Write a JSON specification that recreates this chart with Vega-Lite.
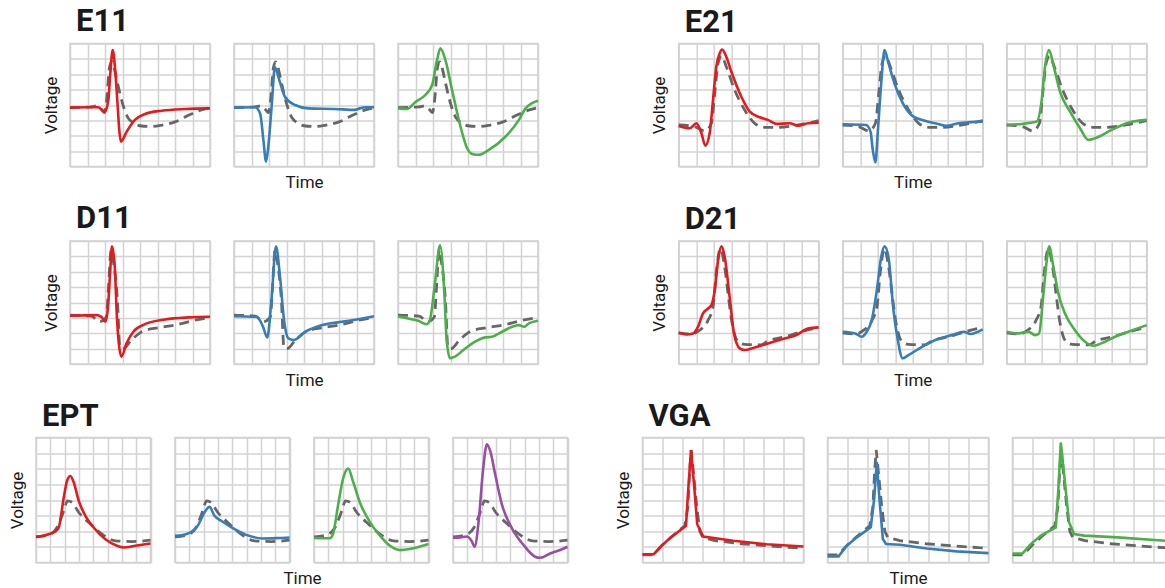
{
"$schema":"https://vega.github.io/schema/vega-lite/v6.json",
"background":"white",
"padding":{"left":7,"top":5.5,"right":0,"bottom":0},
"data":{"name":"w"},
"datasets":{"w":[
{"g":"E11","p":0,"t":0,"v":3.83},{"g":"E11","p":0,"t":1.2,"v":3.88},{"g":"E11","p":0,"t":1.55,"v":3.95},{"g":"E11","p":0,"t":1.8,"v":3.7},{"g":"E11","p":0,"t":1.97,"v":3.5},{"g":"E11","p":0,"t":2.1,"v":4.4},{"g":"E11","p":0,"t":2.25,"v":6.4},{"g":"E11","p":0,"t":2.38,"v":6.81},{"g":"E11","p":0,"t":2.5,"v":6.5},{"g":"E11","p":0,"t":2.7,"v":5.5},{"g":"E11","p":0,"t":3.0,"v":4.1},{"g":"E11","p":0,"t":3.3,"v":3.2},{"g":"E11","p":0,"t":3.6,"v":2.85},{"g":"E11","p":0,"t":4.0,"v":2.65},{"g":"E11","p":0,"t":4.6,"v":2.6},{"g":"E11","p":0,"t":5.2,"v":2.68},{"g":"E11","p":0,"t":6.0,"v":2.9},{"g":"E11","p":0,"t":6.9,"v":3.4},{"g":"E11","p":0,"t":7.5,"v":3.68},{"g":"E11","p":0,"t":8,"v":3.83},
{"g":"E11","p":1,"t":0,"v":3.83},{"g":"E11","p":1,"t":1.05,"v":3.85},{"g":"E11","p":1,"t":1.6,"v":3.85},{"g":"E11","p":1,"t":2.0,"v":3.57},{"g":"E11","p":1,"t":2.19,"v":4.32},{"g":"E11","p":1,"t":2.3,"v":6.0},{"g":"E11","p":1,"t":2.44,"v":7.57},{"g":"E11","p":1,"t":2.58,"v":6.3},{"g":"E11","p":1,"t":2.72,"v":4.0},{"g":"E11","p":1,"t":2.82,"v":2.3},{"g":"E11","p":1,"t":2.91,"v":1.62},{"g":"E11","p":1,"t":3.24,"v":2.27},{"g":"E11","p":1,"t":3.71,"v":3.03},{"g":"E11","p":1,"t":4.29,"v":3.42},{"g":"E11","p":1,"t":5.24,"v":3.63},{"g":"E11","p":1,"t":6.57,"v":3.74},{"g":"E11","p":1,"t":8,"v":3.78},
{"g":"E11","p":2,"t":0,"v":3.83},{"g":"E11","p":2,"t":1.2,"v":3.85},{"g":"E11","p":2,"t":1.49,"v":3.46},{"g":"E11","p":2,"t":1.68,"v":1.73},{"g":"E11","p":2,"t":1.83,"v":0.32},{"g":"E11","p":2,"t":1.96,"v":1.3},{"g":"E11","p":2,"t":2.15,"v":3.89},{"g":"E11","p":2,"t":2.34,"v":6.45},{"g":"E11","p":2,"t":2.59,"v":5.62},{"g":"E11","p":2,"t":2.91,"v":4.54},{"g":"E11","p":2,"t":3.49,"v":4.0},{"g":"E11","p":2,"t":4.25,"v":3.78},{"g":"E11","p":2,"t":5.77,"v":3.74},{"g":"E11","p":2,"t":6.91,"v":3.68},{"g":"E11","p":2,"t":7.2,"v":3.78},{"g":"E11","p":2,"t":7.49,"v":3.85},{"g":"E11","p":2,"t":8,"v":3.85},
{"g":"E11","p":3,"t":0,"v":3.78},{"g":"E11","p":3,"t":0.52,"v":3.74},{"g":"E11","p":3,"t":1.0,"v":4.2},{"g":"E11","p":3,"t":1.56,"v":4.65},{"g":"E11","p":3,"t":1.95,"v":5.3},{"g":"E11","p":3,"t":2.23,"v":6.92},{"g":"E11","p":3,"t":2.42,"v":7.68},{"g":"E11","p":3,"t":2.71,"v":6.92},{"g":"E11","p":3,"t":3.09,"v":4.97},{"g":"E11","p":3,"t":3.57,"v":2.6},{"g":"E11","p":3,"t":3.95,"v":1.19},{"g":"E11","p":3,"t":4.24,"v":0.82},{"g":"E11","p":3,"t":4.62,"v":0.76},{"g":"E11","p":3,"t":5.19,"v":1.08},{"g":"E11","p":3,"t":6.15,"v":1.95},{"g":"E11","p":3,"t":6.91,"v":3.03},{"g":"E11","p":3,"t":7.29,"v":3.78},{"g":"E11","p":3,"t":8,"v":4.28},
{"g":"E21","p":0,"t":0,"v":2.7},{"g":"E21","p":0,"t":0.91,"v":2.6},{"g":"E21","p":0,"t":1.49,"v":2.31},{"g":"E21","p":0,"t":1.87,"v":2.81},{"g":"E21","p":0,"t":2.06,"v":4.76},{"g":"E21","p":0,"t":2.25,"v":6.7},{"g":"E21","p":0,"t":2.45,"v":7.2},{"g":"E21","p":0,"t":2.72,"v":6.49},{"g":"E21","p":0,"t":3.2,"v":4.97},{"g":"E21","p":0,"t":3.77,"v":3.68},{"g":"E21","p":0,"t":4.34,"v":2.81},{"g":"E21","p":0,"t":4.91,"v":2.55},{"g":"E21","p":0,"t":5.68,"v":2.55},{"g":"E21","p":0,"t":6.82,"v":2.7},{"g":"E21","p":0,"t":8,"v":2.98},
{"g":"E21","p":1,"t":0,"v":2.64},{"g":"E21","p":1,"t":0.63,"v":2.49},{"g":"E21","p":1,"t":1.01,"v":2.81},{"g":"E21","p":1,"t":1.3,"v":2.16},{"g":"E21","p":1,"t":1.52,"v":1.36},{"g":"E21","p":1,"t":1.77,"v":2.16},{"g":"E21","p":1,"t":1.96,"v":4.32},{"g":"E21","p":1,"t":2.15,"v":6.49},{"g":"E21","p":1,"t":2.34,"v":7.35},{"g":"E21","p":1,"t":2.48,"v":7.61},{"g":"E21","p":1,"t":2.72,"v":7.14},{"g":"E21","p":1,"t":3.01,"v":6.16},{"g":"E21","p":1,"t":3.58,"v":4.54},{"g":"E21","p":1,"t":4.06,"v":3.57},{"g":"E21","p":1,"t":4.63,"v":3.2},{"g":"E21","p":1,"t":5.1,"v":3.03},{"g":"E21","p":1,"t":5.58,"v":2.77},{"g":"E21","p":1,"t":6.34,"v":2.81},{"g":"E21","p":1,"t":6.82,"v":2.66},{"g":"E21","p":1,"t":7.39,"v":2.81},{"g":"E21","p":1,"t":8,"v":2.85},
{"g":"E21","p":2,"t":0,"v":2.75},{"g":"E21","p":2,"t":1.34,"v":2.7},{"g":"E21","p":2,"t":1.59,"v":2.27},{"g":"E21","p":2,"t":1.72,"v":1.08},{"g":"E21","p":2,"t":1.87,"v":0.26},{"g":"E21","p":2,"t":2.0,"v":2.16},{"g":"E21","p":2,"t":2.2,"v":5.4},{"g":"E21","p":2,"t":2.39,"v":7.57},{"g":"E21","p":2,"t":2.62,"v":6.7},{"g":"E21","p":2,"t":2.96,"v":5.4},{"g":"E21","p":2,"t":3.44,"v":4.1},{"g":"E21","p":2,"t":3.92,"v":3.35},{"g":"E21","p":2,"t":4.68,"v":2.98},{"g":"E21","p":2,"t":5.45,"v":2.77},{"g":"E21","p":2,"t":5.93,"v":2.64},{"g":"E21","p":2,"t":6.6,"v":2.81},{"g":"E21","p":2,"t":8,"v":2.92},
{"g":"E21","p":3,"t":0,"v":2.7},{"g":"E21","p":3,"t":0.67,"v":2.75},{"g":"E21","p":3,"t":1.71,"v":2.92},{"g":"E21","p":3,"t":2.0,"v":4.32},{"g":"E21","p":3,"t":2.19,"v":6.49},{"g":"E21","p":3,"t":2.42,"v":7.57},{"g":"E21","p":3,"t":2.67,"v":6.59},{"g":"E21","p":3,"t":3.05,"v":4.86},{"g":"E21","p":3,"t":3.62,"v":3.57},{"g":"E21","p":3,"t":4.19,"v":2.49},{"g":"E21","p":3,"t":4.67,"v":1.73},{"g":"E21","p":3,"t":5.05,"v":1.84},{"g":"E21","p":3,"t":6.0,"v":2.38},{"g":"E21","p":3,"t":6.95,"v":2.85},{"g":"E21","p":3,"t":8,"v":3.03},
{"g":"D11","p":0,"t":0,"v":3.18},{"g":"D11","p":0,"t":1.21,"v":3.11},{"g":"D11","p":0,"t":1.69,"v":2.75},{"g":"D11","p":0,"t":2.08,"v":3.07},{"g":"D11","p":0,"t":2.2,"v":5.0},{"g":"D11","p":0,"t":2.35,"v":7.4},{"g":"D11","p":0,"t":2.5,"v":6.5},{"g":"D11","p":0,"t":2.71,"v":4.15},{"g":"D11","p":0,"t":2.85,"v":1.12},{"g":"D11","p":0,"t":3.0,"v":0.98},{"g":"D11","p":0,"t":3.52,"v":1.56},{"g":"D11","p":0,"t":4.1,"v":2.1},{"g":"D11","p":0,"t":5.06,"v":2.36},{"g":"D11","p":0,"t":6.02,"v":2.53},{"g":"D11","p":0,"t":6.98,"v":2.81},{"g":"D11","p":0,"t":8,"v":3.03},
{"g":"D11","p":1,"t":0,"v":3.14},{"g":"D11","p":1,"t":1.5,"v":3.18},{"g":"D11","p":1,"t":1.79,"v":3.07},{"g":"D11","p":1,"t":2.02,"v":2.75},{"g":"D11","p":1,"t":2.17,"v":3.72},{"g":"D11","p":1,"t":2.29,"v":5.88},{"g":"D11","p":1,"t":2.4,"v":7.65},{"g":"D11","p":1,"t":2.56,"v":6.31},{"g":"D11","p":1,"t":2.67,"v":3.29},{"g":"D11","p":1,"t":2.79,"v":1.34},{"g":"D11","p":1,"t":2.94,"v":0.48},{"g":"D11","p":1,"t":3.23,"v":1.34},{"g":"D11","p":1,"t":3.62,"v":2.1},{"g":"D11","p":1,"t":4.29,"v":2.59},{"g":"D11","p":1,"t":5.44,"v":2.9},{"g":"D11","p":1,"t":6.79,"v":3.03},{"g":"D11","p":1,"t":8,"v":3.07},
{"g":"D11","p":2,"t":0,"v":3.11},{"g":"D11","p":2,"t":1.29,"v":3.07},{"g":"D11","p":2,"t":1.66,"v":2.42},{"g":"D11","p":2,"t":1.9,"v":1.73},{"g":"D11","p":2,"t":2.14,"v":4.15},{"g":"D11","p":2,"t":2.4,"v":7.65},{"g":"D11","p":2,"t":2.63,"v":5.66},{"g":"D11","p":2,"t":2.86,"v":2.85},{"g":"D11","p":2,"t":3.11,"v":1.66},{"g":"D11","p":2,"t":3.4,"v":1.56},{"g":"D11","p":2,"t":4.08,"v":2.1},{"g":"D11","p":2,"t":5.04,"v":2.53},{"g":"D11","p":2,"t":6.58,"v":2.81},{"g":"D11","p":2,"t":8,"v":3.11},
{"g":"D11","p":3,"t":0,"v":3.11},{"g":"D11","p":3,"t":0.58,"v":2.96},{"g":"D11","p":3,"t":1.15,"v":2.81},{"g":"D11","p":3,"t":1.63,"v":2.59},{"g":"D11","p":3,"t":1.82,"v":2.85},{"g":"D11","p":3,"t":2.11,"v":5.23},{"g":"D11","p":3,"t":2.4,"v":7.72},{"g":"D11","p":3,"t":2.65,"v":4.58},{"g":"D11","p":3,"t":2.78,"v":1.56},{"g":"D11","p":3,"t":2.98,"v":0.37},{"g":"D11","p":3,"t":3.26,"v":0.48},{"g":"D11","p":3,"t":3.74,"v":0.91},{"g":"D11","p":3,"t":4.41,"v":1.45},{"g":"D11","p":3,"t":4.99,"v":1.73},{"g":"D11","p":3,"t":5.37,"v":1.77},{"g":"D11","p":3,"t":5.95,"v":2.1},{"g":"D11","p":3,"t":6.52,"v":2.42},{"g":"D11","p":3,"t":6.91,"v":2.53},{"g":"D11","p":3,"t":7.19,"v":2.42},{"g":"D11","p":3,"t":7.48,"v":2.64},{"g":"D11","p":3,"t":8,"v":2.81},
{"g":"D21","p":0,"t":0,"v":2.03},{"g":"D21","p":0,"t":0.72,"v":1.95},{"g":"D21","p":0,"t":1.2,"v":2.2},{"g":"D21","p":0,"t":1.68,"v":2.85},{"g":"D21","p":0,"t":1.96,"v":3.72},{"g":"D21","p":0,"t":2.15,"v":6.0},{"g":"D21","p":0,"t":2.38,"v":7.5},{"g":"D21","p":0,"t":2.6,"v":6.5},{"g":"D21","p":0,"t":2.82,"v":4.58},{"g":"D21","p":0,"t":3.0,"v":3.0},{"g":"D21","p":0,"t":3.2,"v":1.9},{"g":"D21","p":0,"t":3.4,"v":1.45},{"g":"D21","p":0,"t":3.75,"v":1.28},{"g":"D21","p":0,"t":4.7,"v":1.25},{"g":"D21","p":0,"t":5.1,"v":1.5},{"g":"D21","p":0,"t":6.06,"v":1.77},{"g":"D21","p":0,"t":7.01,"v":2.1},{"g":"D21","p":0,"t":8,"v":2.38},
{"g":"D21","p":1,"t":0,"v":2.03},{"g":"D21","p":1,"t":0.44,"v":1.92},{"g":"D21","p":1,"t":0.82,"v":1.99},{"g":"D21","p":1,"t":1.1,"v":2.42},{"g":"D21","p":1,"t":1.39,"v":3.29},{"g":"D21","p":1,"t":1.68,"v":3.61},{"g":"D21","p":1,"t":1.87,"v":3.83},{"g":"D21","p":1,"t":2.06,"v":4.8},{"g":"D21","p":1,"t":2.25,"v":6.75},{"g":"D21","p":1,"t":2.44,"v":7.65},{"g":"D21","p":1,"t":2.63,"v":6.96},{"g":"D21","p":1,"t":2.91,"v":4.37},{"g":"D21","p":1,"t":3.16,"v":1.99},{"g":"D21","p":1,"t":3.49,"v":1.02},{"g":"D21","p":1,"t":3.77,"v":0.91},{"g":"D21","p":1,"t":4.34,"v":1.08},{"g":"D21","p":1,"t":5.1,"v":1.34},{"g":"D21","p":1,"t":6.06,"v":1.66},{"g":"D21","p":1,"t":6.72,"v":1.88},{"g":"D21","p":1,"t":7.39,"v":2.31},{"g":"D21","p":1,"t":8,"v":2.38},
{"g":"D21","p":2,"t":0,"v":2.1},{"g":"D21","p":2,"t":0.71,"v":1.99},{"g":"D21","p":2,"t":1.09,"v":1.77},{"g":"D21","p":2,"t":1.37,"v":2.1},{"g":"D21","p":2,"t":1.66,"v":2.85},{"g":"D21","p":2,"t":1.95,"v":4.8},{"g":"D21","p":2,"t":2.2,"v":6.96},{"g":"D21","p":2,"t":2.39,"v":7.65},{"g":"D21","p":2,"t":2.62,"v":6.92},{"g":"D21","p":2,"t":2.9,"v":3.5},{"g":"D21","p":2,"t":3.15,"v":1.56},{"g":"D21","p":2,"t":3.42,"v":0.37},{"g":"D21","p":2,"t":3.76,"v":0.58},{"g":"D21","p":2,"t":4.53,"v":1.12},{"g":"D21","p":2,"t":5.29,"v":1.56},{"g":"D21","p":2,"t":6.25,"v":1.88},{"g":"D21","p":2,"t":6.92,"v":2.1},{"g":"D21","p":2,"t":7.3,"v":1.95},{"g":"D21","p":2,"t":8,"v":2.25},
{"g":"D21","p":3,"t":0,"v":2.1},{"g":"D21","p":3,"t":0.67,"v":1.99},{"g":"D21","p":3,"t":1.24,"v":2.1},{"g":"D21","p":3,"t":1.62,"v":1.88},{"g":"D21","p":3,"t":1.85,"v":1.99},{"g":"D21","p":3,"t":2.1,"v":4.58},{"g":"D21","p":3,"t":2.29,"v":6.75},{"g":"D21","p":3,"t":2.42,"v":7.65},{"g":"D21","p":3,"t":2.67,"v":6.31},{"g":"D21","p":3,"t":2.95,"v":4.58},{"g":"D21","p":3,"t":3.33,"v":3.29},{"g":"D21","p":3,"t":3.9,"v":2.2},{"g":"D21","p":3,"t":4.48,"v":1.45},{"g":"D21","p":3,"t":4.95,"v":1.19},{"g":"D21","p":3,"t":5.62,"v":1.45},{"g":"D21","p":3,"t":6.19,"v":1.77},{"g":"D21","p":3,"t":6.95,"v":2.1},{"g":"D21","p":3,"t":8,"v":2.53},
{"g":"EPT","p":0,"t":0,"v":1.64},{"g":"EPT","p":0,"t":0.89,"v":1.77},{"g":"EPT","p":0,"t":1.47,"v":2.24},{"g":"EPT","p":0,"t":1.94,"v":3.3},{"g":"EPT","p":0,"t":2.2,"v":3.95},{"g":"EPT","p":0,"t":2.52,"v":3.84},{"g":"EPT","p":0,"t":2.99,"v":3.2},{"g":"EPT","p":0,"t":3.69,"v":2.56},{"g":"EPT","p":0,"t":4.62,"v":1.81},{"g":"EPT","p":0,"t":5.55,"v":1.39},{"g":"EPT","p":0,"t":6.71,"v":1.34},{"g":"EPT","p":0,"t":8,"v":1.43},
{"g":"EPT","p":1,"t":0,"v":1.64},{"g":"EPT","p":1,"t":0.65,"v":1.75},{"g":"EPT","p":1,"t":1.35,"v":1.98},{"g":"EPT","p":1,"t":1.59,"v":2.24},{"g":"EPT","p":1,"t":1.94,"v":4.16},{"g":"EPT","p":1,"t":2.17,"v":5.22},{"g":"EPT","p":1,"t":2.4,"v":5.54},{"g":"EPT","p":1,"t":2.64,"v":5.12},{"g":"EPT","p":1,"t":2.99,"v":3.94},{"g":"EPT","p":1,"t":3.45,"v":2.99},{"g":"EPT","p":1,"t":4.03,"v":2.24},{"g":"EPT","p":1,"t":4.85,"v":1.49},{"g":"EPT","p":1,"t":5.66,"v":1.07},{"g":"EPT","p":1,"t":6.13,"v":0.96},{"g":"EPT","p":1,"t":6.95,"v":1.07},{"g":"EPT","p":1,"t":8,"v":1.22},
{"g":"EPT","p":2,"t":0,"v":1.71},{"g":"EPT","p":2,"t":0.77,"v":1.81},{"g":"EPT","p":2,"t":1.59,"v":2.35},{"g":"EPT","p":2,"t":2.06,"v":3.2},{"g":"EPT","p":2,"t":2.41,"v":3.56},{"g":"EPT","p":2,"t":2.76,"v":2.99},{"g":"EPT","p":2,"t":3.23,"v":2.67},{"g":"EPT","p":2,"t":4.04,"v":2.2},{"g":"EPT","p":2,"t":4.98,"v":1.77},{"g":"EPT","p":2,"t":6.14,"v":1.54},{"g":"EPT","p":2,"t":7.08,"v":1.56},{"g":"EPT","p":2,"t":8,"v":1.6},
{"g":"EPT","p":3,"t":0,"v":1.57},{"g":"EPT","p":3,"t":1.1,"v":1.55},{"g":"EPT","p":3,"t":1.33,"v":1.82},{"g":"EPT","p":3,"t":1.68,"v":3.65},{"g":"EPT","p":3,"t":2.03,"v":5.36},{"g":"EPT","p":3,"t":2.39,"v":6.01},{"g":"EPT","p":3,"t":2.74,"v":5.15},{"g":"EPT","p":3,"t":3.2,"v":3.86},{"g":"EPT","p":3,"t":3.91,"v":2.58},{"g":"EPT","p":3,"t":4.61,"v":1.72},{"g":"EPT","p":3,"t":5.31,"v":1.07},{"g":"EPT","p":3,"t":6.01,"v":0.79},{"g":"EPT","p":3,"t":6.71,"v":0.86},{"g":"EPT","p":3,"t":8,"v":1.18},
{"g":"EPT","p":4,"t":0,"v":1.59},{"g":"EPT","p":4,"t":0.51,"v":1.61},{"g":"EPT","p":4,"t":0.98,"v":1.66},{"g":"EPT","p":4,"t":1.33,"v":1.33},{"g":"EPT","p":4,"t":1.51,"v":1.01},{"g":"EPT","p":4,"t":1.79,"v":2.62},{"g":"EPT","p":4,"t":2.09,"v":5.85},{"g":"EPT","p":4,"t":2.37,"v":7.57},{"g":"EPT","p":4,"t":2.6,"v":7.14},{"g":"EPT","p":4,"t":2.95,"v":5.63},{"g":"EPT","p":4,"t":3.42,"v":3.7},{"g":"EPT","p":4,"t":4.12,"v":2.19},{"g":"EPT","p":4,"t":4.93,"v":1.12},{"g":"EPT","p":4,"t":5.74,"v":0.37},{"g":"EPT","p":4,"t":6.09,"v":0.3},{"g":"EPT","p":4,"t":6.79,"v":0.58},{"g":"EPT","p":4,"t":7.49,"v":0.8},{"g":"EPT","p":4,"t":8,"v":1.01},
{"g":"VGA","p":0,"t":0,"v":0.49},{"g":"VGA","p":0,"t":0.53,"v":0.49},{"g":"VGA","p":0,"t":0.95,"v":1.07},{"g":"VGA","p":0,"t":1.4,"v":1.6},{"g":"VGA","p":0,"t":2.1,"v":2.35},{"g":"VGA","p":0,"t":2.25,"v":3.5},{"g":"VGA","p":0,"t":2.35,"v":6.0},{"g":"VGA","p":0,"t":2.42,"v":7.2},{"g":"VGA","p":0,"t":2.55,"v":5.5},{"g":"VGA","p":0,"t":2.7,"v":3.5},{"g":"VGA","p":0,"t":2.85,"v":2.0},{"g":"VGA","p":0,"t":3.0,"v":1.6},{"g":"VGA","p":0,"t":3.6,"v":1.4},{"g":"VGA","p":0,"t":4.9,"v":1.2},{"g":"VGA","p":0,"t":6.1,"v":1.08},{"g":"VGA","p":0,"t":7.5,"v":0.95},{"g":"VGA","p":0,"t":8,"v":0.93},
{"g":"VGA","p":1,"t":0,"v":0.53},{"g":"VGA","p":1,"t":0.56,"v":0.53},{"g":"VGA","p":1,"t":0.95,"v":1.07},{"g":"VGA","p":1,"t":1.36,"v":1.56},{"g":"VGA","p":1,"t":2.16,"v":2.35},{"g":"VGA","p":1,"t":2.27,"v":4.58},{"g":"VGA","p":1,"t":2.41,"v":7.19},{"g":"VGA","p":1,"t":2.56,"v":5.01},{"g":"VGA","p":1,"t":2.72,"v":2.45},{"g":"VGA","p":1,"t":3.02,"v":1.66},{"g":"VGA","p":1,"t":4.51,"v":1.39},{"g":"VGA","p":1,"t":6.17,"v":1.17},{"g":"VGA","p":1,"t":8,"v":1.02},
{"g":"VGA","p":2,"t":0,"v":0.39},{"g":"VGA","p":2,"t":0.55,"v":0.39},{"g":"VGA","p":2,"t":0.96,"v":1.07},{"g":"VGA","p":2,"t":1.46,"v":1.61},{"g":"VGA","p":2,"t":2.15,"v":2.25},{"g":"VGA","p":2,"t":2.32,"v":4.08},{"g":"VGA","p":2,"t":2.45,"v":6.44},{"g":"VGA","p":2,"t":2.58,"v":4.08},{"g":"VGA","p":2,"t":2.75,"v":1.5},{"g":"VGA","p":2,"t":2.91,"v":1.18},{"g":"VGA","p":2,"t":3.61,"v":1.14},{"g":"VGA","p":2,"t":4.93,"v":0.9},{"g":"VGA","p":2,"t":6.42,"v":0.71},{"g":"VGA","p":2,"t":8,"v":0.6},
{"g":"VGA","p":3,"t":0,"v":0.58},{"g":"VGA","p":3,"t":0.5,"v":0.58},{"g":"VGA","p":3,"t":0.91,"v":1.18},{"g":"VGA","p":3,"t":1.41,"v":1.72},{"g":"VGA","p":3,"t":2.15,"v":2.25},{"g":"VGA","p":3,"t":2.27,"v":4.51},{"g":"VGA","p":3,"t":2.4,"v":7.68},{"g":"VGA","p":3,"t":2.57,"v":5.58},{"g":"VGA","p":3,"t":2.81,"v":2.58},{"g":"VGA","p":3,"t":3.06,"v":1.82},{"g":"VGA","p":3,"t":3.56,"v":1.72},{"g":"VGA","p":3,"t":5.22,"v":1.61},{"g":"VGA","p":3,"t":7.62,"v":1.39},{"g":"VGA","p":3,"t":8,"v":1.37}
]},
"spacing":11.5,
"vconcat":[
{"spacing":0,"hconcat":[
 {"width":3,"height":10,"data":{"values":[{"a":1}]},"mark":{"type":"point","opacity":0},"view":{"stroke":null,"fill":"white"}},
 {"spacing":104.7,"hconcat":[
  {"title":{"text":"E11"},"bounds":"flush","spacing":24,"hconcat":[
   {"width":140,"height":123,"encoding":{"x":{"field":"t","type":"quantitative","scale":{"domain":[0,8]},"axis":{"title":null}},"y":{"field":"v","type":"quantitative","scale":{"domain":[0,8]},"axis":{"title":"Voltage"}}},"layer":[
    {"transform":[{"filter":"datum.g=='E11'&&datum.p==0"}],"mark":{"type":"line","color":"#666666","strokeWidth":2.8,"strokeDash":[10,6],"interpolate":"monotone"}},
    {"transform":[{"filter":"datum.g=='E11'&&datum.p==1"}],"mark":{"type":"line","color":"#e41a1c","strokeWidth":2.6,"interpolate":"monotone"}}]},
   {"width":140,"height":123,"encoding":{"x":{"field":"t","type":"quantitative","scale":{"domain":[0,8]},"axis":{"title":"Time"}},"y":{"field":"v","type":"quantitative","scale":{"domain":[0,8]},"axis":{"title":null}}},"layer":[
    {"transform":[{"filter":"datum.g=='E11'&&datum.p==0"}],"mark":{"type":"line","color":"#666666","strokeWidth":2.8,"strokeDash":[10,6],"interpolate":"monotone"}},
    {"transform":[{"filter":"datum.g=='E11'&&datum.p==2"}],"mark":{"type":"line","color":"#377eb8","strokeWidth":2.6,"interpolate":"monotone"}}]},
   {"width":140,"height":123,"encoding":{"x":{"field":"t","type":"quantitative","scale":{"domain":[0,8]},"axis":{"title":null}},"y":{"field":"v","type":"quantitative","scale":{"domain":[0,8]},"axis":{"title":null}}},"layer":[
    {"transform":[{"filter":"datum.g=='E11'&&datum.p==0"}],"mark":{"type":"line","color":"#666666","strokeWidth":2.8,"strokeDash":[10,6],"interpolate":"monotone"}},
    {"transform":[{"filter":"datum.g=='E11'&&datum.p==3"}],"mark":{"type":"line","color":"#4daf4a","strokeWidth":2.6,"interpolate":"monotone"}}]}
  ]},
  {"title":{"text":"E21"},"bounds":"flush","spacing":24,"hconcat":[
   {"width":140,"height":123,"encoding":{"x":{"field":"t","type":"quantitative","scale":{"domain":[0,8]},"axis":{"title":null}},"y":{"field":"v","type":"quantitative","scale":{"domain":[0,8]},"axis":{"title":"Voltage"}}},"layer":[
    {"transform":[{"filter":"datum.g=='E21'&&datum.p==0"}],"mark":{"type":"line","color":"#666666","strokeWidth":2.8,"strokeDash":[10,6],"interpolate":"monotone"}},
    {"transform":[{"filter":"datum.g=='E21'&&datum.p==1"}],"mark":{"type":"line","color":"#e41a1c","strokeWidth":2.6,"interpolate":"monotone"}}]},
   {"width":140,"height":123,"encoding":{"x":{"field":"t","type":"quantitative","scale":{"domain":[0,8]},"axis":{"title":"Time"}},"y":{"field":"v","type":"quantitative","scale":{"domain":[0,8]},"axis":{"title":null}}},"layer":[
    {"transform":[{"filter":"datum.g=='E21'&&datum.p==0"}],"mark":{"type":"line","color":"#666666","strokeWidth":2.8,"strokeDash":[10,6],"interpolate":"monotone"}},
    {"transform":[{"filter":"datum.g=='E21'&&datum.p==2"}],"mark":{"type":"line","color":"#377eb8","strokeWidth":2.6,"interpolate":"monotone"}}]},
   {"width":140,"height":123,"encoding":{"x":{"field":"t","type":"quantitative","scale":{"domain":[0,8]},"axis":{"title":null}},"y":{"field":"v","type":"quantitative","scale":{"domain":[0,8]},"axis":{"title":null}}},"layer":[
    {"transform":[{"filter":"datum.g=='E21'&&datum.p==0"}],"mark":{"type":"line","color":"#666666","strokeWidth":2.8,"strokeDash":[10,6],"interpolate":"monotone"}},
    {"transform":[{"filter":"datum.g=='E21'&&datum.p==3"}],"mark":{"type":"line","color":"#4daf4a","strokeWidth":2.6,"interpolate":"monotone"}}]}
  ]}
 ]}
]},
{"spacing":0,"hconcat":[
 {"width":3,"height":10,"data":{"values":[{"a":1}]},"mark":{"type":"point","opacity":0},"view":{"stroke":null,"fill":"white"}},
 {"spacing":104.7,"hconcat":[
  {"title":{"text":"D11"},"bounds":"flush","spacing":24,"hconcat":[
   {"width":140,"height":123,"encoding":{"x":{"field":"t","type":"quantitative","scale":{"domain":[0,8]},"axis":{"title":null}},"y":{"field":"v","type":"quantitative","scale":{"domain":[0,8]},"axis":{"title":"Voltage"}}},"layer":[
    {"transform":[{"filter":"datum.g=='D11'&&datum.p==0"}],"mark":{"type":"line","color":"#666666","strokeWidth":2.8,"strokeDash":[10,6],"interpolate":"monotone"}},
    {"transform":[{"filter":"datum.g=='D11'&&datum.p==1"}],"mark":{"type":"line","color":"#e41a1c","strokeWidth":2.6,"interpolate":"monotone"}}]},
   {"width":140,"height":123,"encoding":{"x":{"field":"t","type":"quantitative","scale":{"domain":[0,8]},"axis":{"title":"Time"}},"y":{"field":"v","type":"quantitative","scale":{"domain":[0,8]},"axis":{"title":null}}},"layer":[
    {"transform":[{"filter":"datum.g=='D11'&&datum.p==0"}],"mark":{"type":"line","color":"#666666","strokeWidth":2.8,"strokeDash":[10,6],"interpolate":"monotone"}},
    {"transform":[{"filter":"datum.g=='D11'&&datum.p==2"}],"mark":{"type":"line","color":"#377eb8","strokeWidth":2.6,"interpolate":"monotone"}}]},
   {"width":140,"height":123,"encoding":{"x":{"field":"t","type":"quantitative","scale":{"domain":[0,8]},"axis":{"title":null}},"y":{"field":"v","type":"quantitative","scale":{"domain":[0,8]},"axis":{"title":null}}},"layer":[
    {"transform":[{"filter":"datum.g=='D11'&&datum.p==0"}],"mark":{"type":"line","color":"#666666","strokeWidth":2.8,"strokeDash":[10,6],"interpolate":"monotone"}},
    {"transform":[{"filter":"datum.g=='D11'&&datum.p==3"}],"mark":{"type":"line","color":"#4daf4a","strokeWidth":2.6,"interpolate":"monotone"}}]}
  ]},
  {"title":{"text":"D21"},"bounds":"flush","spacing":24,"hconcat":[
   {"width":140,"height":123,"encoding":{"x":{"field":"t","type":"quantitative","scale":{"domain":[0,8]},"axis":{"title":null}},"y":{"field":"v","type":"quantitative","scale":{"domain":[0,8]},"axis":{"title":"Voltage"}}},"layer":[
    {"transform":[{"filter":"datum.g=='D21'&&datum.p==0"}],"mark":{"type":"line","color":"#666666","strokeWidth":2.8,"strokeDash":[10,6],"interpolate":"monotone"}},
    {"transform":[{"filter":"datum.g=='D21'&&datum.p==1"}],"mark":{"type":"line","color":"#e41a1c","strokeWidth":2.6,"interpolate":"monotone"}}]},
   {"width":140,"height":123,"encoding":{"x":{"field":"t","type":"quantitative","scale":{"domain":[0,8]},"axis":{"title":"Time"}},"y":{"field":"v","type":"quantitative","scale":{"domain":[0,8]},"axis":{"title":null}}},"layer":[
    {"transform":[{"filter":"datum.g=='D21'&&datum.p==0"}],"mark":{"type":"line","color":"#666666","strokeWidth":2.8,"strokeDash":[10,6],"interpolate":"monotone"}},
    {"transform":[{"filter":"datum.g=='D21'&&datum.p==2"}],"mark":{"type":"line","color":"#377eb8","strokeWidth":2.6,"interpolate":"monotone"}}]},
   {"width":140,"height":123,"encoding":{"x":{"field":"t","type":"quantitative","scale":{"domain":[0,8]},"axis":{"title":null}},"y":{"field":"v","type":"quantitative","scale":{"domain":[0,8]},"axis":{"title":null}}},"layer":[
    {"transform":[{"filter":"datum.g=='D21'&&datum.p==0"}],"mark":{"type":"line","color":"#666666","strokeWidth":2.8,"strokeDash":[10,6],"interpolate":"monotone"}},
    {"transform":[{"filter":"datum.g=='D21'&&datum.p==3"}],"mark":{"type":"line","color":"#4daf4a","strokeWidth":2.6,"interpolate":"monotone"}}]}
  ]}
 ]}
]},
{"spacing":39.5,"hconcat":[
  {"title":{"text":"EPT"},"bounds":"flush","spacing":24,"hconcat":[
   {"width":114.5,"height":125,"encoding":{"x":{"field":"t","type":"quantitative","scale":{"domain":[0,8]},"axis":{"title":null}},"y":{"field":"v","type":"quantitative","scale":{"domain":[0,8]},"axis":{"title":"Voltage"}}},"layer":[
    {"transform":[{"filter":"datum.g=='EPT'&&datum.p==0"}],"mark":{"type":"line","color":"#666666","strokeWidth":2.8,"strokeDash":[10,6],"interpolate":"monotone"}},
    {"transform":[{"filter":"datum.g=='EPT'&&datum.p==1"}],"mark":{"type":"line","color":"#e41a1c","strokeWidth":2.6,"interpolate":"monotone"}}]},
   {"width":114.5,"height":125,"encoding":{"x":{"field":"t","type":"quantitative","scale":{"domain":[0,8]},"axis":{"title":null}},"y":{"field":"v","type":"quantitative","scale":{"domain":[0,8]},"axis":{"title":null}}},"layer":[
    {"transform":[{"filter":"datum.g=='EPT'&&datum.p==0"}],"mark":{"type":"line","color":"#666666","strokeWidth":2.8,"strokeDash":[10,6],"interpolate":"monotone"}},
    {"transform":[{"filter":"datum.g=='EPT'&&datum.p==2"}],"mark":{"type":"line","color":"#377eb8","strokeWidth":2.6,"interpolate":"monotone"}}]},
   {"width":114.5,"height":125,"encoding":{"x":{"field":"t","type":"quantitative","scale":{"domain":[0,8]},"axis":{"title":"Time","titleX":-12,"titleAlign":"center"}},"y":{"field":"v","type":"quantitative","scale":{"domain":[0,8]},"axis":{"title":null}}},"layer":[
    {"transform":[{"filter":"datum.g=='EPT'&&datum.p==0"}],"mark":{"type":"line","color":"#666666","strokeWidth":2.8,"strokeDash":[10,6],"interpolate":"monotone"}},
    {"transform":[{"filter":"datum.g=='EPT'&&datum.p==3"}],"mark":{"type":"line","color":"#4daf4a","strokeWidth":2.6,"interpolate":"monotone"}}]},
   {"width":114.5,"height":125,"encoding":{"x":{"field":"t","type":"quantitative","scale":{"domain":[0,8]},"axis":{"title":null}},"y":{"field":"v","type":"quantitative","scale":{"domain":[0,8]},"axis":{"title":null}}},"layer":[
    {"transform":[{"filter":"datum.g=='EPT'&&datum.p==0"}],"mark":{"type":"line","color":"#666666","strokeWidth":2.8,"strokeDash":[10,6],"interpolate":"monotone"}},
    {"transform":[{"filter":"datum.g=='EPT'&&datum.p==4"}],"mark":{"type":"line","color":"#984ea3","strokeWidth":2.6,"interpolate":"monotone"}}]}
  ]},
  {"title":{"text":"VGA"},"bounds":"flush","spacing":24,"hconcat":[
   {"width":161,"height":125,"encoding":{"x":{"field":"t","type":"quantitative","scale":{"domain":[0,8]},"axis":{"title":null}},"y":{"field":"v","type":"quantitative","scale":{"domain":[0,8]},"axis":{"title":"Voltage"}}},"layer":[
    {"transform":[{"filter":"datum.g=='VGA'&&datum.p==0"}],"mark":{"type":"line","color":"#666666","strokeWidth":2.8,"strokeDash":[10,6]}},
    {"transform":[{"filter":"datum.g=='VGA'&&datum.p==1"}],"mark":{"type":"line","color":"#e41a1c","strokeWidth":2.6}}]},
   {"width":161,"height":125,"encoding":{"x":{"field":"t","type":"quantitative","scale":{"domain":[0,8]},"axis":{"title":"Time"}},"y":{"field":"v","type":"quantitative","scale":{"domain":[0,8]},"axis":{"title":null}}},"layer":[
    {"transform":[{"filter":"datum.g=='VGA'&&datum.p==0"}],"mark":{"type":"line","color":"#666666","strokeWidth":2.8,"strokeDash":[10,6]}},
    {"transform":[{"filter":"datum.g=='VGA'&&datum.p==2"}],"mark":{"type":"line","color":"#377eb8","strokeWidth":2.6}}]},
   {"width":161,"height":125,"encoding":{"x":{"field":"t","type":"quantitative","scale":{"domain":[0,8]},"axis":{"title":null}},"y":{"field":"v","type":"quantitative","scale":{"domain":[0,8]},"axis":{"title":null}}},"layer":[
    {"transform":[{"filter":"datum.g=='VGA'&&datum.p==0"}],"mark":{"type":"line","color":"#666666","strokeWidth":2.8,"strokeDash":[10,6]}},
    {"transform":[{"filter":"datum.g=='VGA'&&datum.p==3"}],"mark":{"type":"line","color":"#4daf4a","strokeWidth":2.6}}]}
  ]}
]}
],
"config":{
 "view":{"stroke":"#cfcfcf","strokeWidth":1.5},
 "axis":{"labels":false,"ticks":false,"domain":false,"grid":true,"gridColor":"#d3d3d3","gridWidth":1.5,"tickCount":8,"titleFont":"Roboto","titleFontSize":17,"titleFontWeight":"normal","titleColor":"#1a1a1a","minExtent":0},
 "axisX":{"titlePadding":8},
 "axisY":{"titlePadding":10},
 "title":{"font":"Roboto","fontSize":31,"fontWeight":"bold","color":"#1a1a1a","anchor":"start","frame":"group","offset":4,"dx":6}
}
}
